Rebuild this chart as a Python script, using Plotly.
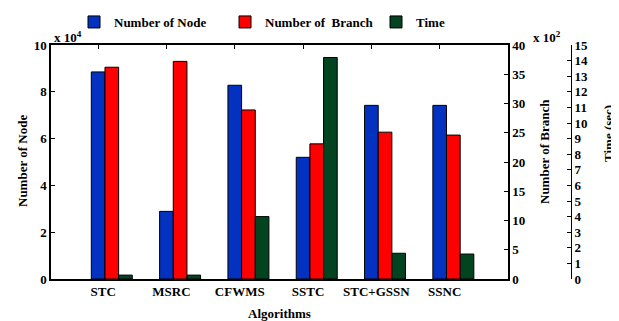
import plotly.graph_objects as go

categories = ["STC", "MSRC", "CFWMS", "SSTC", "STC+GSSN", "SSNC"]
node_vals = [8.85, 2.89, 8.28, 5.20, 7.42, 7.42]        # x 10^4
branch_vals = [36.2, 37.2, 28.9, 23.1, 25.1, 24.6]      # x 10^2
time_vals = [0.25, 0.25, 4.0, 14.2, 1.65, 1.6]          # sec

pos = list(range(1, len(categories) + 1))

FONT = "Liberation Serif"
fs = 13
OFF = 8  # page body margin of the default html
W, H = 619 - OFF, 321 - OFF
# plot box in reference pixel coordinates
L_REF, R_REF, T_REF, B_REF, Y3_REF = 51, 508, 45, 279, 571
ml = L_REF - OFF
mt = T_REF - OFF
mr = W - (Y3_REF - OFF)
mb = H - (B_REF - OFF)
pw = W - ml - mr
ph = H - mt - mb
xdom = (R_REF - L_REF) / pw


def px(x):
    return (x - OFF - ml) / pw


def py(y):
    return 1 - (y - OFF - mt) / ph


fig = go.Figure()
common = dict(width=0.2, marker_line_color="#000000", marker_line_width=1)
fig.add_trace(go.Bar(x=pos, y=node_vals, name="Number of Node", offset=-0.1,
                     marker_color="#0432C0", yaxis="y", **common))
fig.add_trace(go.Bar(x=pos, y=branch_vals, name="Number of  Branch", offset=0.1,
                     marker_color="#FF0000", yaxis="y2", **common))
fig.add_trace(go.Bar(x=pos, y=time_vals, name="Time", offset=0.3,
                     marker_color="#024320", yaxis="y3", **common))

tf = dict(family=FONT, size=fs, color="#000000", weight="bold")

fig.update_layout(
    template="none",
    width=W, height=H,
    margin=dict(l=ml, r=mr, t=mt, b=mb, autoexpand=False),
    paper_bgcolor="white", plot_bgcolor="white",
    barmode="overlay",
    font=tf,
    showlegend=True,
    legend=dict(orientation="h", x=px(74), y=py(22), xanchor="left", yanchor="middle",
                font=tf, entrywidth=106, entrywidthmode="pixels",
                bgcolor="rgba(0,0,0,0)"),
    xaxis=dict(domain=[0, xdom], range=[0.31, 7.0], tickmode="array",
               tickvals=pos, ticktext=categories, ticks="inside", ticklen=4,
               tickcolor="#000", showline=True, linecolor="#000", linewidth=1.5,
               mirror="ticks", layer="below traces", showgrid=False, zeroline=False,
               tickfont=tf, ticklabelshift=5, automargin=False,
               title=dict(text="Algorithms", font=tf, standoff=12)),
    yaxis=dict(range=[0, 10], dtick=2, ticks="inside", ticklen=4, tickcolor="#000",
               showline=True, linecolor="#000", linewidth=1.5, showgrid=False,
               zeroline=False, tickfont=tf, automargin=False),
    yaxis2=dict(range=[0, 40], dtick=5, overlaying="y", side="right", anchor="x",
                ticks="inside", ticklen=4, tickcolor="#000", showline=True,
                linecolor="#000", linewidth=1.5, showgrid=False, zeroline=False,
                tickfont=tf, automargin=False),
    yaxis3=dict(range=[0, 15], dtick=1, overlaying="y", side="right", anchor="free",
                position=1.0, ticks="inside", ticklen=4, tickcolor="#000",
                showline=True, linecolor="#000", linewidth=1, showgrid=False,
                zeroline=False, tickfont=tf, automargin=False),
    annotations=[
        dict(text="x 10<sup>4</sup>", xref="paper", yref="paper",
             x=px(52), y=py(37), xanchor="left", yanchor="middle",
             showarrow=False, font=tf),
        dict(text="x 10<sup>2</sup>", xref="paper", yref="paper",
             x=px(531), y=py(37), xanchor="left", yanchor="middle",
             showarrow=False, font=tf),
        dict(text="Number of Node", xref="paper", yref="paper",
             x=px(22), y=py(161), xanchor="center", yanchor="middle",
             textangle=-90, showarrow=False, font=tf),
        dict(text="Number of Branch", xref="paper", yref="paper",
             x=px(544), y=py(152), xanchor="center", yanchor="middle",
             textangle=-90, showarrow=False, font=tf),
        dict(text="Time (sec)", xref="paper", yref="paper",
             x=px(608), y=py(134), xanchor="center", yanchor="middle",
             textangle=-90, showarrow=False, font=tf),
    ],
)

fig.write_html("out.html")
